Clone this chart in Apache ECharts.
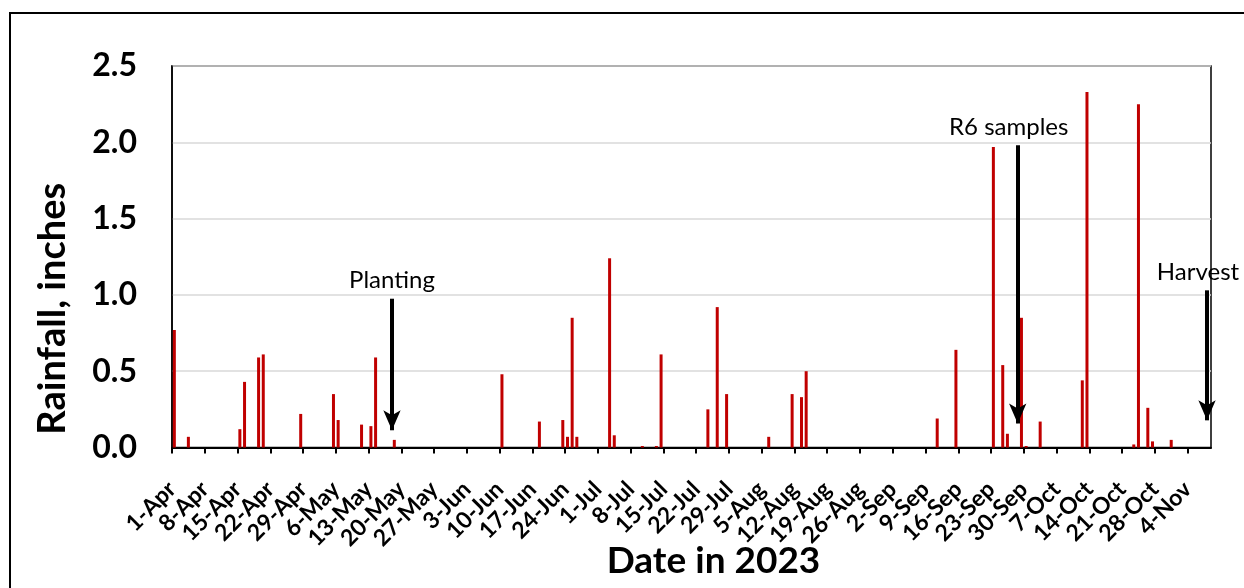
<!DOCTYPE html>
<html>
<head>
<meta charset="utf-8">
<script src="https://cdn.jsdelivr.net/npm/echarts@6/dist/echarts.min.js"></script>
<style>
  html, body { margin: 0; padding: 0; background: #fff; }
  #chart { width: 1244px; height: 588px; }
</style>
</head>
<body>
<div id="chart"></div>
<script>
// ---- Data ----
const startDate = '2023-04-01';
const rainDates = [
  '2023-04-01','2023-04-04','2023-04-15','2023-04-16','2023-04-19','2023-04-20','2023-04-28',
  '2023-05-05','2023-05-06','2023-05-11','2023-05-13','2023-05-14','2023-05-18',
  '2023-06-10','2023-06-18','2023-06-23','2023-06-24','2023-06-25','2023-06-26',
  '2023-07-03','2023-07-04','2023-07-10','2023-07-13','2023-07-14','2023-07-24','2023-07-26','2023-07-28',
  '2023-08-06','2023-08-11','2023-08-13','2023-08-14',
  '2023-09-11','2023-09-15','2023-09-23','2023-09-25','2023-09-26','2023-09-29','2023-09-30',
  '2023-10-03','2023-10-12','2023-10-13','2023-10-23','2023-10-24','2023-10-26','2023-10-27','2023-10-31'
];
const rainInches = [
  0.77, 0.07, 0.12, 0.43, 0.59, 0.61, 0.22,
  0.35, 0.18, 0.15, 0.14, 0.59, 0.05,
  0.48, 0.17, 0.18, 0.07, 0.85, 0.07,
  1.24, 0.08, 0.01, 0.01, 0.61, 0.25, 0.92, 0.35,
  0.07, 0.35, 0.33, 0.50,
  0.19, 0.64, 1.97, 0.54, 0.09, 0.85, 0.01,
  0.17, 0.44, 2.33, 0.02, 2.25, 0.26, 0.04, 0.05
];
const tickLabels = [
  '1-Apr','8-Apr','15-Apr','22-Apr','29-Apr','6-May','13-May','20-May','27-May',
  '3-Jun','10-Jun','17-Jun','24-Jun','1-Jul','8-Jul','15-Jul','22-Jul','29-Jul',
  '5-Aug','12-Aug','19-Aug','26-Aug','2-Sep','9-Sep','16-Sep','23-Sep','30-Sep',
  '7-Oct','14-Oct','21-Oct','28-Oct','4-Nov'
];
const yTicks = [0, 0.5, 1.0, 1.5, 2.0, 2.5];
// annotation arrows: label, day offset from 1-Apr, arrow top (in), arrow tip (in)
const annotLabels = ['Planting', 'R6 samples', 'Harvest'];
const annotDays   = [47.0, 180.7, 221.15];
const annotTop    = [0.975, 1.98, 1.03];
const annotTip    = [0.113, 0.157, 0.178];

const AXIS_DAYS = 222;   // axis span in days after 1-Apr
const TICK_STEP = 7;

// ---- Build ----
function dayOffset(iso) {
  const [y, m, d] = iso.split('-').map(Number);
  const [y0, m0, d0] = startDate.split('-').map(Number);
  return Math.round((Date.UTC(y, m - 1, d) - Date.UTC(y0, m0 - 1, d0)) / 86400000);
}
const barData = rainDates.map((d, i) => [dayOffset(d) + 0.5, rainInches[i]]);
const tickValues = tickLabels.map((_, i) => i * TICK_STEP);

const FONT = 'Lato';
const chart = echarts.init(document.getElementById('chart'), null, { renderer: 'canvas' });

const labelOffsets = [[0, 0], [-9, 0], [-9, 0]];
const markLineData = annotLabels.map((name, i) => [
  { coord: [annotDays[i], annotTop[i]], symbol: 'none', name: name, label: { offset: labelOffsets[i] } },
  { coord: [annotDays[i], annotTip[i]], symbol: 'arrow' }
]);

chart.setOption({
  animation: false,
  backgroundColor: '#fff',
  textStyle: { fontFamily: FONT },
  grid: {
    left: 172, top: 66, width: 1039, height: 381.5,
    containLabel: false, outerBoundsMode: 'none',
    show: true, borderColor: '#000', borderWidth: 1.5, backgroundColor: 'transparent'
  },
  xAxis: {
    type: 'value',
    min: 0, max: AXIS_DAYS, interval: TICK_STEP,
    name: 'Date in 2023',
    nameLocation: 'middle',
    nameGap: 95,
    nameMoveOverlap: false,
    nameTextStyle: { fontFamily: FONT, fontWeight: 'bold', fontSize: 37, color: '#000', padding: [0, 0, 0, 44], lineHeight: 38 },
    axisLine: { show: true, onZero: false, lineStyle: { color: '#000', width: 2 } },
    axisTick: { show: true, length: 6, lineStyle: { color: '#000', width: 2 }, customValues: tickValues },
    splitLine: { show: false },
    axisLabel: {
      customValues: tickValues,
      showMinLabel: true, showMaxLabel: true,
      rotate: 45, margin: 38,
      fontFamily: FONT, fontWeight: 'bold', fontSize: 23, color: '#000',
      formatter: v => tickLabels[Math.round(v / TICK_STEP)] || ''
    }
  },
  yAxis: {
    type: 'value',
    min: 0, max: 2.5, interval: 0.5,
    name: 'Rainfall, inches',
    nameLocation: 'middle',
    nameRotate: 90,
    nameGap: 100,
    nameMoveOverlap: false,
    nameTextStyle: { fontFamily: FONT, fontWeight: 'bold', fontSize: 38, color: '#000', padding: [0, 104, 0, 0] },
    axisLine: { show: true, lineStyle: { color: '#000', width: 1.5 } },
    axisTick: { show: false },
    splitLine: { show: true, lineStyle: { color: '#D9D9D9', width: 1.5 } },
    axisLabel: {
      margin: 35,
      fontFamily: FONT, fontWeight: 'bold', fontSize: 32, color: '#000',
      formatter: v => (yTicks.includes(v) ? v.toFixed(1) : '')
    }
  },
  series: [{
    type: 'bar',
    data: barData,
    barWidth: 3,
    itemStyle: { color: '#C00000' },
    markLine: {
      silent: true,
      symbolSize: [13, 20],
      lineStyle: { color: '#000', width: 4, type: 'solid' },
      label: {
        show: true, position: 'start', distance: 6,
        formatter: p => p.name,
        fontFamily: FONT, fontSize: 24, color: '#000'
      },
      emphasis: { disabled: true },
      data: markLineData
    }
  }],
  graphic: [{
    type: 'rect',
    shape: { x: 10, y: 13, width: 1400, height: 800 },
    style: { fill: 'none', stroke: '#000', lineWidth: 2 },
    silent: true, z: 100
  }]
});
</script>
</body>
</html>
